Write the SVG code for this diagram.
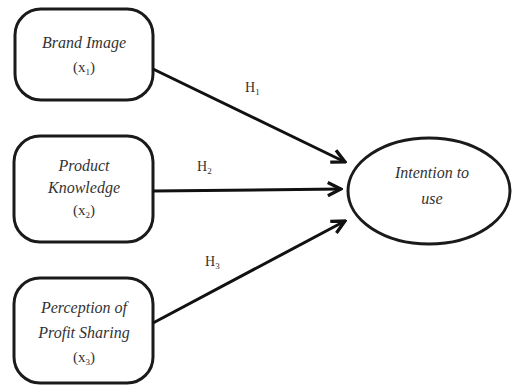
<svg xmlns="http://www.w3.org/2000/svg" width="514" height="388" viewBox="0 0 514 388">
<style>
.box{fill:#fff;stroke:#1a1a1a;stroke-width:3}
.t{font-family:"Liberation Serif",serif;font-style:italic;font-size:16px;fill:#333;text-anchor:middle}
.u{font-family:"Liberation Serif",serif;font-size:15px;fill:#333;text-anchor:middle}
.h{font-family:"Liberation Serif",serif;font-size:14px;fill:#333}
.s{font-size:9px}
.c{stroke:#111;stroke-width:3;fill:none;marker-end:url(#arr)}
</style>
<defs>
<marker id="arr" viewBox="0 0 10 10" refX="9" refY="5" markerWidth="5.5" markerHeight="5.5" orient="auto" markerUnits="strokeWidth">
<path d="M1,1 L9,5 L1,9" fill="none" stroke="#111" stroke-width="2"/>
</marker>
</defs>
<rect width="514" height="388" fill="#fff"/>
<g id="brand">
<rect class="box" x="15" y="9" width="138" height="91" rx="26"/>
<text class="t" x="84" y="48">Brand Image</text>
<text class="u" x="84" y="72">(x<tspan class="s" dy="3">1</tspan><tspan dy="-3">)</tspan></text>
</g>
<g id="product">
<rect class="box" x="14" y="136" width="139" height="106" rx="26"/>
<text class="t" x="84" y="171">Product</text>
<text class="t" x="84" y="193">Knowledge</text>
<text class="u" x="84" y="215">(x<tspan class="s" dy="3">2</tspan><tspan dy="-3">)</tspan></text>
</g>
<g id="perception">
<rect class="box" x="14" y="278" width="139" height="105" rx="26"/>
<text class="t" x="84" y="313">Perception of</text>
<text class="t" x="84" y="338">Profit Sharing</text>
<text class="u" x="84" y="362">(x<tspan class="s" dy="3">3</tspan><tspan dy="-3">)</tspan></text>
</g>
<g id="intention">
<ellipse class="box" cx="429" cy="191" rx="81" ry="53"/>
<text class="t" x="432" y="178">Intention to</text>
<text class="t" x="432" y="204">use</text>
</g>
<g id="connectors">
<line class="c" x1="153" y1="69" x2="345" y2="162"/>
<line class="c" x1="153" y1="191" x2="341" y2="189"/>
<line class="c" x1="153" y1="323" x2="345" y2="221"/>
<text class="h" x="245" y="92">H<tspan class="s" dy="3">1</tspan></text>
<text class="h" x="197" y="171">H<tspan class="s" dy="3">2</tspan></text>
<text class="h" x="205" y="266">H<tspan class="s" dy="3">3</tspan></text>
</g>
</svg>
